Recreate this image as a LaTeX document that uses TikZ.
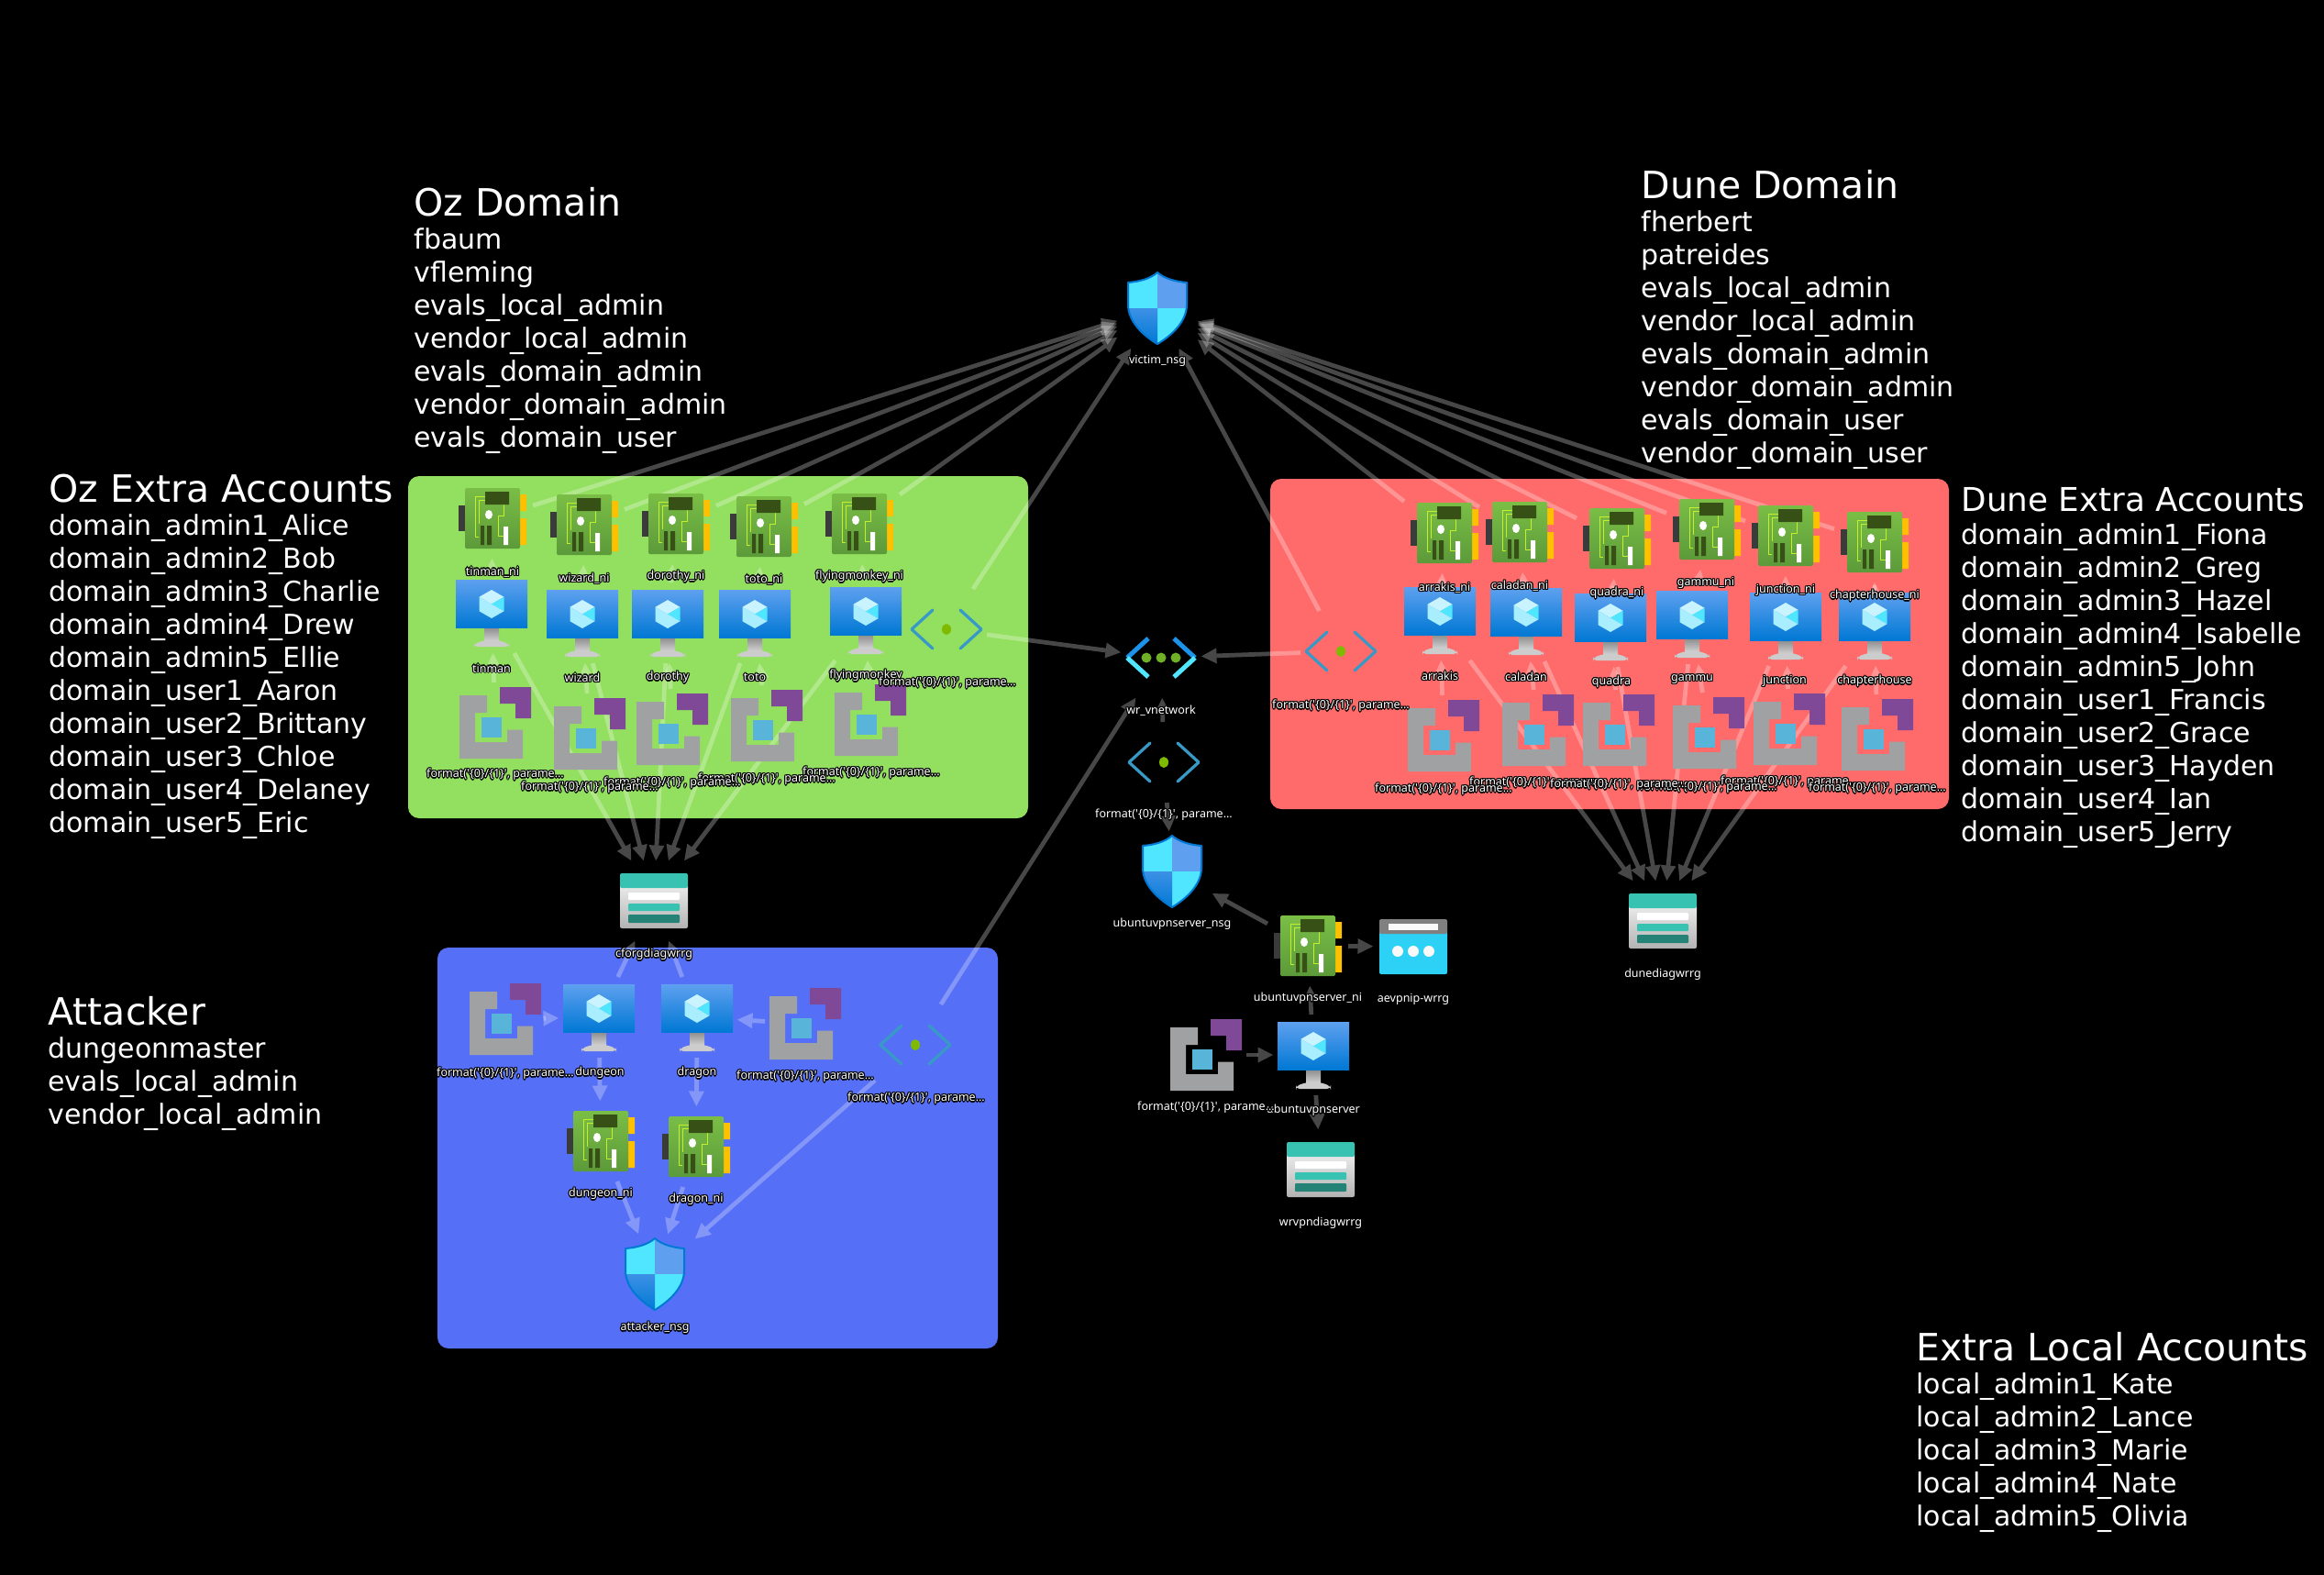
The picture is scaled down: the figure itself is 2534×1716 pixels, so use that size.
\documentclass[tikz,border=0pt]{standalone}
\usepackage{fontspec}
\usetikzlibrary{arrows.meta}
\setmainfont{DejaVu Sans}
\newfontfamily\lblfont[Mapping=]{Noto Sans}
\definecolor{ozgreen}{RGB}{147,224,96}
\definecolor{dunered}{RGB}{255,107,107}
\definecolor{attackblue}{RGB}{85,112,247}
\definecolor{nictop}{RGB}{122,190,70}
\definecolor{nicbot}{RGB}{92,154,58}
\definecolor{nictrace}{RGB}{195,240,42}
\definecolor{nicchip}{RGB}{55,80,22}
\definecolor{nicport}{RGB}{255,192,0}
\definecolor{vmtop}{RGB}{94,160,239}
\definecolor{vmbot}{RGB}{0,120,212}
\definecolor{cubetop}{RGB}{200,243,255}
\definecolor{cubeleft}{RGB}{168,238,255}
\definecolor{cubecyan}{RGB}{80,230,255}
\definecolor{imggray}{RGB}{160,161,162}
\definecolor{imgpurple}{RGB}{128,73,152}
\definecolor{imgblue}{RGB}{89,180,217}
\definecolor{subnetblue}{RGB}{57,153,198}
\definecolor{subnetdot}{RGB}{127,186,0}
\definecolor{vnetblue}{RGB}{27,147,235}
\definecolor{vnetdot}{RGB}{111,176,39}
\definecolor{nsgmid}{RGB}{60,145,230}
\definecolor{storteal}{RGB}{55,194,177}
\definecolor{stordark}{RGB}{37,130,119}
\definecolor{pipcyan}{RGB}{45,209,245}
\pgfdeclarelayer{panels}
\pgfdeclarelayer{edges}
\pgfsetlayers{panels,edges,main}
\newcommand{\halocopy}[2]{\rlap{\kern#1\raise#2\copy0}}
\newcommand{\halo}[1]{\sbox0{\color{black}#1}%
  \halocopy{.5pt}{0pt}\halocopy{-.5pt}{0pt}\halocopy{0pt}{.5pt}\halocopy{0pt}{-.5pt}%
  \halocopy{.35pt}{.35pt}\halocopy{-.35pt}{.35pt}\halocopy{.35pt}{-.35pt}\halocopy{-.35pt}{-.35pt}#1}
\newcommand{\fmtlbl}{\halo{format('\{0\}/\{1\}', parame...}}
\newcommand{\accttitle}[1]{{\fontsize{16.4}{14.4}\selectfont #1}}
\tikzset{
  nicshape/.pic={
    \fill[black!77] (-37,-14) rectangle (-30,14);
    \fill[nicport] (30,-26) rectangle (37,-8) (30,0) rectangle (37,29);
    \shade[top color=nictop,bottom color=nicbot,rounded corners=.6pt] (-30,-33) rectangle (30,33);
    \draw[nictrace,line width=.4pt] (-8,-24) -- (-19,-24) -- (-19,20) -- (-15,20)
      (-8,-20) -- (-15,-20) -- (-15,6) (12,-15) -- (12,-3) -- (6,-3) -- (6,19) -- (12,19);
    \fill[nicchip] (-8,-29) rectangle (18,-15) (-13,8) rectangle (-9,29) (-6,8) rectangle (-1,29);
    \fill[white] (-4,-4) ellipse (4 and 5) (12,9) rectangle (17,29);
  },
  vmshape/.pic={
    \shade[top color=gray!90,bottom color=gray!35] (-8,16) rectangle (8,31);
    \fill[gray!40,rounded corners=1.6pt] (-19,37) -- (-19,34) -- (-8,30) -- (8,30) -- (19,34) -- (19,37) -- cycle;
    \shade[top color=vmtop,bottom color=vmbot] (-39,-36) rectangle (39,16);
    \begin{scope}[yshift=3.8pt]
      \fill[cubetop] (0,-15.5) -- (13.5,-7.75) -- (0,0) -- (-13.5,-7.75) -- cycle;
      \fill[cubeleft] (-13.5,-7.75) -- (0,0) -- (0,15.5) -- (-13.5,7.75) -- cycle;
      \fill[cubecyan] (13.5,-7.75) -- (0,0) -- (13.5,7.75) -- cycle;
      \fill[cubeleft] (0,0) -- (0,15.5) -- (13.5,7.75) -- cycle;
    \end{scope}
  },
  imgshape/.pic={
    \fill[imggray] (-39,-30) -- (-9,-30) -- (-9,-11) -- (-22,-11) -- (-22,21)
      -- (13,21) -- (13,7.5) -- (30,7.5) -- (30,39) -- (-39,39) -- cycle;
    \fill[imgpurple] (5,-39) -- (39,-39) -- (39,-5) -- (22,-5) -- (22,-21) -- (5,-21) -- cycle;
    \fill[imgblue] (-15,-6.5) rectangle (7,15.5);
  },
  subnetshape/.pic={
    \draw[subnetblue,line width=1.3pt,line cap=round] (-15,-21) -- (-38,0) -- (-15,21)
      (15,-21) -- (38,0) -- (15,21);
    \fill[subnetdot] (0,0) ellipse (5 and 6);
  },
  vnetshape/.pic={
    \draw[vnetblue,line width=2pt] (-14,-21) -- (-37,0) (14,-21) -- (37,0);
    \draw[cubecyan,line width=2pt] (-37,0) -- (-14,21) (37,0) -- (14,21);
    \fill[vnetdot] (-16,0) circle (5.5) (0,0) circle (5.5) (16,0) circle (5.5);
  },
  nsgshape/.pic={
    \begin{scope}
      \clip (0,-39) .. controls (-8,-32) and (-20,-29) .. (-32,-28) -- (-32,-4) .. controls (-32,15) and (-15,30) .. (0,39)
        .. controls (15,30) and (32,15) .. (32,-4) -- (32,-28) .. controls (20,-29) and (8,-32) .. (0,-39) -- cycle;
      \fill[cubecyan] (-33,-40) rectangle (0,0) (0,0) rectangle (33,40);
      \fill[vmtop] (0,-40) rectangle (33,0);
      \shade[top color=nsgmid,bottom color=vmbot] (-33,0) rectangle (0,40);
    \end{scope}
    \draw[vmbot,line width=.8pt] (0,-39) .. controls (-8,-32) and (-20,-29) .. (-32,-28) -- (-32,-4)
      .. controls (-32,15) and (-15,30) .. (0,39) .. controls (15,30) and (32,15) .. (32,-4) -- (32,-28) .. controls (20,-29) and (8,-32) .. (0,-39) -- cycle;
  },
  storshape/.pic={
    \shade[top color=gray!15,bottom color=gray!60,rounded corners=.8pt] (-37,-18) rectangle (37,30);
    \fill[storteal,rounded corners=.8pt] (-37,-14) -- (-37,-30) -- (37,-30) -- (37,-14) -- cycle;
    \fill[white,rounded corners=.4pt] (-28,-9) rectangle (28,-1);
    \fill[storteal,rounded corners=.4pt] (-28,3) rectangle (28,11);
    \fill[stordark,rounded corners=.4pt] (-28,15) rectangle (28,24);
  },
  pipshape/.pic={
    \fill[pipcyan,rounded corners=.8pt] (-37,-18) rectangle (37,30);
    \fill[gray,rounded corners=.8pt] (-37,-14) -- (-37,-30) -- (37,-30) -- (37,-14) -- cycle;
    \fill[white!95!gray] (-27,-25) rectangle (27,-18);
    \fill[white!95!gray] (-17,5) circle (6) (0,5) circle (6) (17,5) circle (6);
  },
  res/.style={inner sep=0pt,outer sep=0pt,minimum width=35.2pt,minimum height=35.2pt},
  nic/.style={res,path picture={\pic at (path picture bounding box.center) {nicshape};}},
  vm/.style={res,path picture={\pic at (path picture bounding box.center) {vmshape};}},
  img/.style={res,path picture={\pic at (path picture bounding box.center) {imgshape};}},
  subnet/.style={res,path picture={\pic at (path picture bounding box.center) {subnetshape};}},
  vnet/.style={res,path picture={\pic at (path picture bounding box.center) {vnetshape};}},
  nsg/.style={res,path picture={\pic at (path picture bounding box.center) {nsgshape};}},
  stor/.style={res,path picture={\pic at (path picture bounding box.center) {storshape};}},
  pip/.style={res,path picture={\pic at (path picture bounding box.center) {pipshape};}},
  lbl/.style={text=white,inner sep=0pt,yshift=-.6pt,font=\lblfont\fontsize{5}{6}\selectfont},
  link/.style={->,draw=white,opacity=.28,line width=1.9pt},
  acct/.style={text=white,inner sep=0pt,anchor=base west,font=\fontsize{12}{14.4}\selectfont},
  panel/.style={rounded corners=4.8pt},
}

\begin{document}
\begin{tikzpicture}[x=.4pt,y=-.4pt,>={Triangle[length=6.6pt,width=6.8pt,line width=0pt]},line join=bevel]
\useasboundingbox (0,0) rectangle (2534,1716);
%%
\begin{pgfonlayer}{panels}
  \fill[black] (-10,-10) rectangle (2544,1726);
  \fill[panel,ozgreen] (445,519) rectangle (1121,892);
  \fill[panel,dunered] (1385,522) rectangle (2125,882);
  \fill[panel,attackblue] (477,1033) rectangle (1088,1470);
\end{pgfonlayer}
%% centre column
\node (victimnsg) at (1262,336) [nsg] {};
\node (wrvnet) at (1266,717) [vnet] {};
\node (ubuntusubnet) at (1269,831) [subnet] {};
\node (ubuntunsg) at (1278,950) [nsg] {};
\node (ubuntuni) at (1426,1031) [nic] {};
\node (aevpnip) at (1541,1032) [pip] {};
\node (ubuntuvm) at (1432,1150) [vm] {};
\node (ubuntuimg) at (1315,1150) [img] {};
\node (wrvpndiag) at (1440,1275) [stor] {};
%% oz
\node (tinmanni) at (537,565) [nic] {};
\node (wizardni) at (637,572) [nic] {};
\node (dorothyni) at (737,571) [nic] {};
\node (totoni) at (833,574) [nic] {};
\node (monkeyni) at (937,571) [nic] {};
\node (tinmanvm) at (536,668) [vm] {};
\node (wizardvm) at (635,679) [vm] {};
\node (dorothyvm) at (728,679) [vm] {};
\node (totovm) at (823,679) [vm] {};
\node (monkeyvm) at (944,676) [vm] {};
\node (tinmanimg) at (540,788) [img] {};
\node (wizardimg) at (643,800) [img] {};
\node (dorothyimg) at (733,795) [img] {};
\node (totoimg) at (836,791) [img] {};
\node (monkeyimg) at (949,785) [img] {};
\node (ozsubnet) at (1032,686) [subnet] {};
\node (cforgdiag) at (713,982) [stor] {};
%% dune
\node (arrakisni) at (1575,581) [nic] {};
\node (caladanni) at (1657,580) [nic] {};
\node (quadrani) at (1763,587) [nic] {};
\node (gammuni) at (1861,577) [nic] {};
\node (junctionni) at (1947,584) [nic] {};
\node (chapterni) at (2044,591) [nic] {};
\node (arrakisvm) at (1570,676) [vm] {};
\node (caladanvm) at (1664,677) [vm] {};
\node (quadravm) at (1756,683) [vm] {};
\node (gammuvm) at (1845,680) [vm] {};
\node (junctionvm) at (1947,682) [vm] {};
\node (chaptervm) at (2044,682) [vm] {};
\node (arrakisimg) at (1574,802) [img] {};
\node (caladanimg) at (1677,796) [img] {};
\node (quadraimg) at (1765,796) [img] {};
\node (gammuimg) at (1863,799) [img] {};
\node (junctionimg) at (1951,795) [img] {};
\node (chapterimg) at (2047,801) [img] {};
\node (dunesubnet) at (1462,710) [subnet] {};
\node (dunediag) at (1813,1004) [stor] {};
%% attacker
\node (dungeonvm) at (653,1109) [vm] {};
\node (dragonvm) at (760,1109) [vm] {};
\node (dungeonimg) at (551,1111) [img] {};
\node (dragonimg) at (878,1116) [img] {};
\node (attacksubnet) at (998,1139) [subnet] {};
\node (dungeonni) at (655,1244) [nic] {};
\node (dragonni) at (759,1250) [nic] {};
\node (attacknsg) at (714,1389) [nsg] {};
%%
\begin{pgfonlayer}{edges}
  \draw [link] (tinmanni) -- (victimnsg);
  \draw [link] (wizardni) -- (victimnsg);
  \draw [link] (dorothyni) -- (victimnsg);
  \draw [link] (totoni) -- (victimnsg);
  \draw [link] (monkeyni) -- (victimnsg);
  \draw [link] (ozsubnet) -- (victimnsg);
  \draw [link] (ozsubnet) -- (wrvnet);
  \draw [link] (arrakisni) -- (victimnsg);
  \draw [link] (caladanni) -- (victimnsg);
  \draw [link] (quadrani) -- (victimnsg);
  \draw [link] (gammuni) -- (victimnsg);
  \draw [link] (junctionni) -- (victimnsg);
  \draw [link] (chapterni) -- (victimnsg);
  \draw [link] (dunesubnet) -- (victimnsg);
  \draw [link] (dunesubnet) -- (wrvnet);
  \draw [link] (ubuntusubnet) -- (wrvnet);
  \draw [link] (attacksubnet) -- (wrvnet);
  \draw [link] (ubuntusubnet) -- (ubuntunsg);
  \draw [link] (ubuntuni) -- (ubuntunsg);
  \draw [link] (ubuntuni) -- (aevpnip);
  \draw [link] (ubuntuvm) -- (ubuntuni);
  \draw [link] (ubuntuimg) -- (ubuntuvm);
  \draw [link] (ubuntuvm) -- (wrvpndiag);
  %
  \draw [link] (tinmanimg) -- (tinmanvm);
  \draw [link] (wizardimg) -- (wizardvm);
  \draw [link] (dorothyimg) -- (dorothyvm);
  \draw [link] (totoimg) -- (totovm);
  \draw [link] (monkeyimg) -- (monkeyvm);
  \draw [link] (tinmanvm) -- (tinmanni);
  \draw [link] (wizardvm) -- (wizardni);
  \draw [link] (dorothyvm) -- (dorothyni);
  \draw [link] (totovm) -- (totoni);
  \draw [link] (monkeyvm) -- (monkeyni);
  \draw [link] (tinmanvm) -- (cforgdiag);
  \draw [link] (wizardvm) -- (cforgdiag);
  \draw [link] (dorothyvm) -- (cforgdiag);
  \draw [link] (totovm) -- (cforgdiag);
  \draw [link] (monkeyvm) -- (cforgdiag);
  %
  \draw [link] (arrakisimg) -- (arrakisvm);
  \draw [link] (caladanimg) -- (caladanvm);
  \draw [link] (quadraimg) -- (quadravm);
  \draw [link] (gammuimg) -- (gammuvm);
  \draw [link] (junctionimg) -- (junctionvm);
  \draw [link] (chapterimg) -- (chaptervm);
  \draw [link] (arrakisvm) -- (arrakisni);
  \draw [link] (caladanvm) -- (caladanni);
  \draw [link] (quadravm) -- (quadrani);
  \draw [link] (gammuvm) -- (gammuni);
  \draw [link] (junctionvm) -- (junctionni);
  \draw [link] (chaptervm) -- (chapterni);
  \draw [link] (arrakisvm) -- (dunediag);
  \draw [link] (caladanvm) -- (dunediag);
  \draw [link] (quadravm) -- (dunediag);
  \draw [link] (gammuvm) -- (dunediag);
  \draw [link] (junctionvm) -- (dunediag);
  \draw [link] (chaptervm) -- (dunediag);
  %
  \draw [link] (dungeonimg) -- (dungeonvm);
  \draw [link] (dragonimg) -- (dragonvm);
  \draw [link] (dungeonvm) -- (dungeonni);
  \draw [link] (dragonvm) -- (dragonni);
  \draw [link] (dungeonvm) -- (cforgdiag);
  \draw [link] (dragonvm) -- (cforgdiag);
  \draw [link] (dungeonni) -- (attacknsg);
  \draw [link] (dragonni) -- (attacknsg);
  \draw [link] (attacksubnet) -- (attacknsg);
\end{pgfonlayer}
%% labels
\node (victimlbl) at (1262,392) [lbl] {\halo{victim\_nsg}};
\node (wrvnetlbl) at (1266,773) [lbl] {\halo{wr\_vnetwork}};
\node (ubuntusubnetlbl) at (1269,887) [lbl] {\fmtlbl};
\node (ubuntunsglbl) at (1278,1006) [lbl] {\halo{ubuntuvpnserver\_nsg}};
\node (ubuntunilbl) at (1426,1087) [lbl] {\halo{ubuntuvpnserver\_ni}};
\node (aevpniplbl) at (1541,1088) [lbl] {\halo{aevpnip-wrrg}};
\node (ubuntuvmlbl) at (1432,1209) [lbl] {\halo{ubuntuvpnserver}};
\node (ubuntuimglbl) at (1315,1206) [lbl] {\fmtlbl};
\node (wrvpnlbl) at (1440,1332) [lbl] {\halo{wrvpndiagwrrg}};
\node (cforglbl) at (713,1039) [lbl] {\halo{cforgdiagwrrg}};
\node (dunediaglbl) at (1813,1061) [lbl] {\halo{dunediagwrrg}};
%
\node (tinmannilbl) at (537,622) [lbl] {\halo{tinman\_ni}};
\node (wizardnilbl) at (637,629) [lbl] {\halo{wizard\_ni}};
\node (dorothynilbl) at (737,627) [lbl] {\halo{dorothy\_ni}};
\node (totonilbl) at (833,630) [lbl] {\halo{toto\_ni}};
\node (monkeynilbl) at (937,627) [lbl] {\halo{flyingmonkey\_ni}};
\node (tinmanvmlbl) at (536,727) [lbl] {\halo{tinman}};
\node (wizardvmlbl) at (635,737) [lbl] {\halo{wizard}};
\node (dorothyvmlbl) at (728,737) [lbl] {\halo{dorothy}};
\node (totovmlbl) at (823,737) [lbl] {\halo{toto}};
\node (monkeyvmlbl) at (944,735) [lbl] {\halo{flyingmonkey}};
\node (monkeyimglbl) at (950,841) [lbl] {\fmtlbl};
\node (totoimglbl) at (836,848) [lbl] {\fmtlbl};
\node (dorothyimglbl) at (733,852) [lbl] {\fmtlbl};
\node (tinmanimglbl) at (540,843) [lbl] {\fmtlbl};
\node (wizardimglbl) at (643,857) [lbl] {\fmtlbl};
\node (ozsubnetlbl) at (1033,743) [lbl] {\fmtlbl};
%
\node (arrakisnilbl) at (1575,639) [lbl] {\halo{arrakis\_ni}};
\node (caladannilbl) at (1657,637) [lbl] {\halo{caladan\_ni}};
\node (quadranilbl) at (1763,645) [lbl] {\halo{quadra\_ni}};
\node (gammunilbl) at (1860,634) [lbl] {\halo{gammu\_ni}};
\node (junctionnilbl) at (1947,642) [lbl] {\halo{junction\_ni}};
\node (chapternilbl) at (2044,648) [lbl] {\halo{chapterhouse\_ni}};
\node (arrakisvmlbl) at (1570,735) [lbl] {\halo{arrakis}};
\node (caladanvmlbl) at (1664,736) [lbl] {\halo{caladan}};
\node (quadravmlbl) at (1757,742) [lbl] {\halo{quadra}};
\node (gammuvmlbl) at (1845,739) [lbl] {\halo{gammu}};
\node (junctionvmlbl) at (1946,741) [lbl] {\halo{junction}};
\node (chaptervmlbl) at (2044,741) [lbl] {\halo{chapterhouse}};
\node (caladanimglbl) at (1677,852) [lbl] {\fmtlbl};
\node (junctionimglbl) at (1951,851) [lbl] {\fmtlbl};
\node (gammuimglbl) at (1863,857) [lbl] {\fmtlbl};
\node (quadraimglbl) at (1765,854) [lbl] {\fmtlbl};
\node (arrakisimglbl) at (1574,859) [lbl] {\fmtlbl};
\node (chapterimglbl) at (2047,858) [lbl] {\fmtlbl};
\node (dunesubnetlbl) at (1462,768) [lbl] {\fmtlbl};
%
\node (dungeonvmlbl) at (654,1168) [lbl] {\halo{dungeon}};
\node (dragonvmlbl) at (760,1168) [lbl] {\halo{dragon}};
\node (dungeonimglbl) at (551,1169) [lbl] {\fmtlbl};
\node (dragonimglbl) at (878,1172) [lbl] {\fmtlbl};
\node (attacksubnetlbl) at (999,1196) [lbl] {\fmtlbl};
\node (dungeonnilbl) at (655,1300) [lbl] {\halo{dungeon\_ni}};
\node (dragonnilbl) at (759,1306) [lbl] {\halo{dragon\_ni}};
\node (attacknsglbl) at (714,1446) [lbl] {\halo{attacker\_nsg}};
%% account lists
\node (ozdomain) at (451,235) [acct] {\begin{tabular}[t]{@{}l@{}}\accttitle{Oz Domain}\\fbaum\\vfleming\\evals\_local\_admin\\vendor\_local\_admin\\evals\_domain\_admin\\vendor\_domain\_admin\\evals\_domain\_user\end{tabular}};
\node (ozextra) at (53,547) [acct] {\begin{tabular}[t]{@{}l@{}}\accttitle{Oz Extra Accounts}\\domain\_admin1\_Alice\\domain\_admin2\_Bob\\domain\_admin3\_Charlie\\domain\_admin4\_Drew\\domain\_admin5\_Ellie\\domain\_user1\_Aaron\\domain\_user2\_Brittany\\domain\_user3\_Chloe\\domain\_user4\_Delaney\\domain\_user5\_Eric\end{tabular}};
\node (attacker) at (52,1117) [acct] {\begin{tabular}[t]{@{}l@{}}\accttitle{Attacker}\\dungeonmaster\\evals\_local\_admin\\vendor\_local\_admin\end{tabular}};
\node (dunedomain) at (1789,216) [acct] {\begin{tabular}[t]{@{}l@{}}\accttitle{Dune Domain}\\fherbert\\patreides\\evals\_local\_admin\\vendor\_local\_admin\\evals\_domain\_admin\\vendor\_domain\_admin\\evals\_domain\_user\\vendor\_domain\_user\end{tabular}};
\node (duneextra) at (2138,557) [acct] {\begin{tabular}[t]{@{}l@{}}{\fontsize{14.3}{14.4}\selectfont Dune Extra Accounts}\\domain\_admin1\_Fiona\\domain\_admin2\_Greg\\domain\_admin3\_Hazel\\domain\_admin4\_Isabelle\\domain\_admin5\_John\\domain\_user1\_Francis\\domain\_user2\_Grace\\domain\_user3\_Hayden\\domain\_user4\_Ian\\domain\_user5\_Jerry\end{tabular}};
\node (extralocal) at (2089,1483) [acct] {\begin{tabular}[t]{@{}l@{}}\accttitle{Extra Local Accounts}\\local\_admin1\_Kate\\local\_admin2\_Lance\\local\_admin3\_Marie\\local\_admin4\_Nate\\local\_admin5\_Olivia\end{tabular}};
%
\end{tikzpicture}
\end{document}
